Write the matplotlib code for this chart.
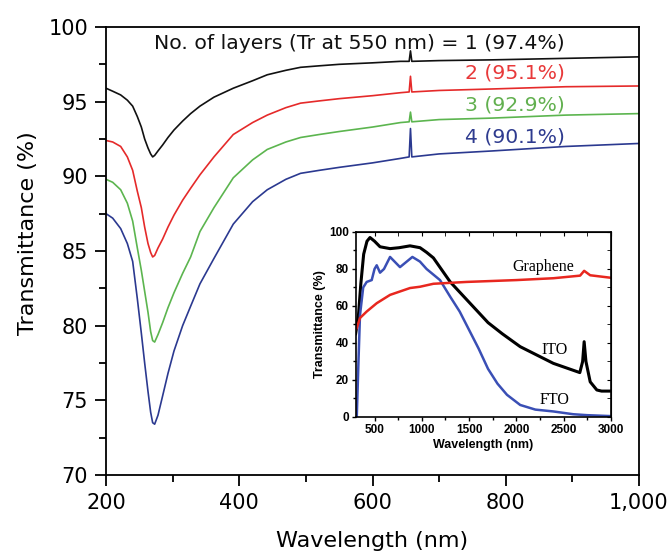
import matplotlib
matplotlib.use("Agg")
import matplotlib.pyplot as plt
from matplotlib.ticker import MultipleLocator, FuncFormatter

# main panel: transmittance of 1-4 graphene layers
wl = [200, 210, 222, 232, 240, 247, 253, 258, 263, 267, 270, 273, 278, 285, 293, 302,
      315, 327, 341, 362, 391, 420, 442, 470, 492, 520, 550, 600, 642, 655, 657, 659,
      700, 780, 890, 1000]
t1 = [95.9, 95.7, 95.45, 95.1, 94.7, 94.0, 93.3, 92.5, 91.9, 91.5, 91.3, 91.4, 91.7, 92.1, 92.6, 93.1,
      93.7, 94.2, 94.7, 95.3, 95.9, 96.4, 96.8, 97.1, 97.3, 97.4, 97.5, 97.6, 97.7, 97.7, 98.4, 97.7,
      97.75, 97.8, 97.9, 98.0]
t2 = [92.4, 92.3, 92.0, 91.3, 90.4, 89.0, 87.9, 86.6, 85.5, 84.9, 84.6, 84.7, 85.2, 85.8, 86.6, 87.4,
      88.4, 89.2, 90.1, 91.3, 92.8, 93.6, 94.1, 94.6, 94.9, 95.05, 95.2, 95.4, 95.6, 95.65, 96.7, 95.65,
      95.75, 95.85, 96.0, 96.05]
t3 = [89.8, 89.6, 89.1, 88.2, 87.0, 85.2, 83.7, 82.3, 80.9, 79.6, 79.0, 78.9, 79.4, 80.2, 81.2, 82.2,
      83.5, 84.6, 86.3, 87.9, 89.9, 91.1, 91.8, 92.3, 92.6, 92.8, 93.0, 93.3, 93.6, 93.65, 94.3, 93.65,
      93.8, 93.9, 94.1, 94.2]
t4 = [87.5, 87.2, 86.5, 85.5, 84.3, 81.8, 79.5, 77.5, 75.6, 74.2, 73.5, 73.4, 74.0, 75.3, 76.8, 78.3,
      80.0, 81.3, 82.8, 84.5, 86.8, 88.3, 89.1, 89.8, 90.2, 90.4, 90.6, 90.9, 91.2, 91.3, 93.2, 91.3,
      91.5, 91.7, 92.0, 92.2]
labels = ["No. of layers (Tr at 550 nm) = 1 (97.4%)", "2 (95.1%)", "3 (92.9%)", "4 (90.1%)"]

# inset: graphene vs ITO vs FTO
ito_wl = [300, 330, 355, 385, 420, 452, 500, 558, 664, 760, 875, 981, 1050, 1122, 1300,
          1500, 1700, 1850, 2040, 2390, 2670, 2700, 2716, 2735, 2780, 2850, 2900, 2990]
ito_t = [45, 55, 72, 88, 95, 97, 95, 92, 91, 91.5, 92.5, 91.5, 89, 86, 73,
         62, 51, 45, 38, 29, 24, 30, 40.7, 30, 19, 14.6, 14, 14]
fto_wl = [300, 312, 330, 346, 380, 417, 470, 500, 523, 558, 600, 664, 769, 900, 980, 1050,
          1192, 1300, 1400, 1500, 1600, 1700, 1800, 1900, 2040, 2200, 2390, 2600, 2744, 2990]
fto_t = [0, 0, 30, 55, 70, 73, 74, 80, 82, 78, 80, 86.5, 81, 86.5, 84, 80,
         74, 65, 57, 47, 37, 26, 18, 12, 6.5, 4, 3, 1.5, 1, 0.5]
gr_wl = [300, 312, 346, 417, 523, 664, 875, 981, 1122, 1474, 1686, 2000, 2391, 2673, 2716, 2780, 2990]
gr_t = [47, 48, 53.5, 57, 61.5, 66, 69.7, 70.4, 72, 73, 73.4, 74, 75, 76.4, 79, 76.6, 75.3]

fig = plt.figure(figsize=(6.71, 5.51), dpi=100)
ax = fig.add_axes([0.158, 0.138, 0.7943, 0.813])

colors = ["#111111", "#e52a2a", "#5cb54f", "#2b3990"]
text_colors = ["#111111", "#e8393a", "#62b04f", "#2e3b8f"]
for t, c in zip([t1, t2, t3, t4], colors):
    ax.plot(wl, t, color=c, lw=1.2)

for lab, y, c in zip(labels, [98.9, 96.9, 94.8, 92.6], text_colors):
    ax.text(889, y, lab, color=c, ha="right", va="center", fontsize=14.7)

ax.set_xlim(200, 1000)
ax.set_ylim(70, 100)
ax.xaxis.set_major_locator(MultipleLocator(200))
ax.xaxis.set_minor_locator(MultipleLocator(100))
ax.yaxis.set_major_locator(MultipleLocator(5))
ax.yaxis.set_minor_locator(MultipleLocator(2.5))
ax.xaxis.set_major_formatter(FuncFormatter(lambda v, p: "{:,.0f}".format(v)))
ax.tick_params(which="major", length=8, width=1.3, direction="out", labelsize=15, pad=5)
ax.tick_params(which="minor", length=5, width=1.3, direction="out")
for s in ax.spines.values():
    s.set_linewidth(1.3)
ax.set_xlabel("Wavelength (nm)", fontsize=16)
ax.set_ylabel("Transmittance (%)", fontsize=16)
ax.xaxis.set_label_coords(0.5, -0.125)
ax.yaxis.set_label_coords(-0.127, 0.54)

# inset
ins = fig.add_axes([0.530, 0.2432, 0.3806, 0.3358])
ins.plot(ito_wl, ito_t, color="black", lw=2.2)
ins.plot(fto_wl, fto_t, color="#3a4fb5", lw=1.8)
ins.plot(gr_wl, gr_t, color="#e8271f", lw=1.8)
ins.set_xlim(300, 3000)
ins.set_ylim(0, 100)
ins.xaxis.set_major_locator(MultipleLocator(500))
ins.xaxis.set_minor_locator(MultipleLocator(250))
ins.yaxis.set_major_locator(MultipleLocator(20))
ins.yaxis.set_minor_locator(MultipleLocator(10))
ins.tick_params(which="major", length=3, width=1, direction="out", labelsize=8.5, pad=2)
ins.tick_params(which="minor", length=2, width=1, direction="out")
for lab in ins.get_xticklabels() + ins.get_yticklabels():
    lab.set_family("Liberation Sans")
    lab.set_fontweight("bold")
for s in ins.spines.values():
    s.set_linewidth(1.2)
top = ins.secondary_xaxis("top")
top.xaxis.set_major_locator(MultipleLocator(500))
top.xaxis.set_minor_locator(MultipleLocator(250))
top.tick_params(which="both", direction="in", labeltop=False, length=3)
right = ins.secondary_yaxis("right")
right.yaxis.set_major_locator(MultipleLocator(20))
right.yaxis.set_minor_locator(MultipleLocator(10))
right.tick_params(which="both", direction="in", labelright=False, length=3)
ins.set_xlabel("Wavelength (nm)", fontsize=9, fontweight="bold", family="Liberation Sans", labelpad=2)
ins.set_ylabel("Transmittance (%)", fontsize=9, fontweight="bold", family="Liberation Sans", labelpad=2)
ins.text(2281, 81, "Graphene", family="Liberation Serif", fontsize=11.5, ha="center", va="center")
ins.text(2408, 36, "ITO", family="Liberation Serif", fontsize=11.5, ha="center", va="center")
ins.text(2408, 9, "FTO", family="Liberation Serif", fontsize=11.5, ha="center", va="center")

fig.savefig("out.png", dpi=100)
